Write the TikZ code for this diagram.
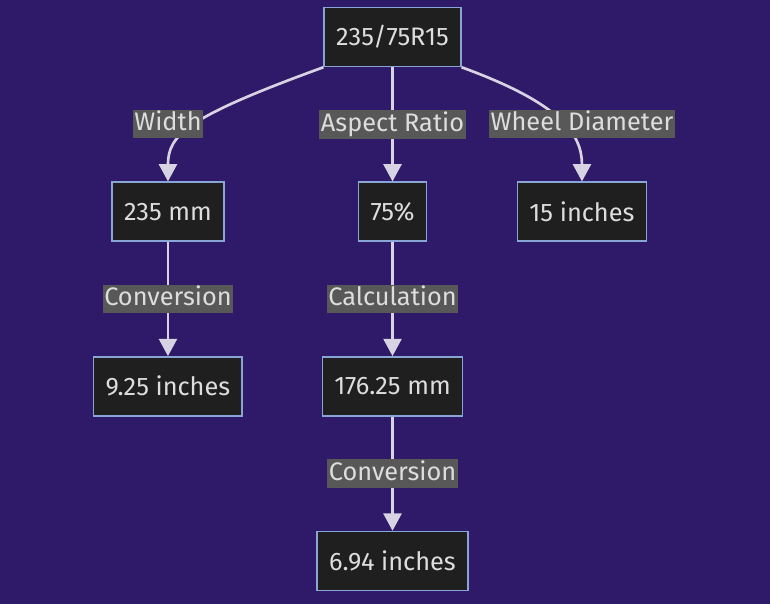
\documentclass[tikz,border=0pt]{standalone}
\usepackage{fontspec}
\setmainfont{Fira Sans}
\usetikzlibrary{arrows.meta,positioning}

\definecolor{bgpurple}{RGB}{46,26,104}
\definecolor{boxfill}{RGB}{31,31,31}
\definecolor{boxline}{RGB}{137,165,214}
\definecolor{inktext}{RGB}{221,221,221}
\definecolor{lblfill}{RGB}{88,88,88}
\definecolor{linkline}{RGB}{216,211,226}

\begin{document}
\begin{tikzpicture}[x=0.75pt,y=-0.75pt,node distance=131pt,
    >={Triangle[width=13.5pt,length=13pt]},
    box/.style={draw=boxline,fill=boxfill,text=inktext,line width=1.1pt,
      minimum height=44.25pt,inner xsep=9pt,font=\fontsize{19}{23}\selectfont},
    lbl/.style={fill=lblfill,text=inktext,inner xsep=1.2pt,inner ysep=1pt,
      text height=15pt,text depth=4.7pt,font=\fontsize{19}{23}\selectfont},
    link/.style={draw=linkline,line width=2pt,->}]
    \fill[bgpurple] (0,0) rectangle (770,604);
    \useasboundingbox (0,0) rectangle (770,604);

    \node[box] (tire) at (392.5,37) {235/75R15};
    \node[box] (ratio) [below of=tire] {75\%};
    \node[box] (width) [left of=ratio, xshift=-37.4pt] {235 mm};
    \node[box] (rim) [right of=ratio, xshift=11.1pt] {15 inches};

    \node[box] (widthin) [below of=width] {9.25 inches};
    \node[box] (sidewall) [below of=ratio] {176.25 mm};
    \node[box] (sidewallin) [below of=sidewall] {6.94 inches};

    \draw[link] (tire) -- node[lbl] {Aspect Ratio} (ratio);
    \draw[link] (width) -- node[lbl] {Conversion} (widthin);
    \draw[link] (ratio) -- node[lbl] {Calculation} (sidewall);
    \draw[link] (sidewall) -- node[lbl] {Conversion} (sidewallin);

    \draw[link] (tire.south west)
      to[out=-160,in=90,out distance=109pt,in distance=35pt] (width.north);
    \draw[link] (tire.south east)
      to[out=-20,in=90,out distance=80pt,in distance=35pt] (rim.north);

    \node[lbl] (lwidth) at (168,124) {Width};
    \node[lbl] (lrim) at (582,124) {Wheel Diameter};
  \end{tikzpicture}
\end{document}
